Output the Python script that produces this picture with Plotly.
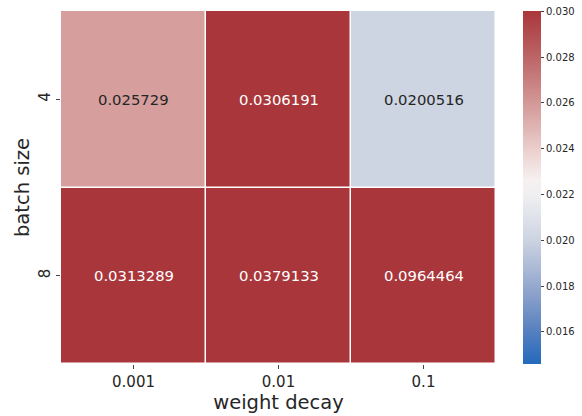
import plotly.graph_objects as go

weight_decay = ["0.001", "0.01", "0.1"]
batch_size = ["4", "8"]
values = [
    [0.025729, 0.0306191, 0.0200516],
    [0.0313289, 0.0379133, 0.0964464],
]
labels = [
    ["0.025729", "0.0306191", "0.0200516"],
    ["0.0313289", "0.0379133", "0.0964464"],
]
zmin, zmax = 0.0146, 0.03001
cbar_ticks = [0.016, 0.018, 0.020, 0.022, 0.024, 0.026, 0.028, 0.030]

vlag = [
    [0.0, "rgb(35,105,189)"],
    [0.1, "rgb(90,130,192)"],
    [0.2, "rgb(140,162,203)"],
    [0.35, "rgb(204,211,225)"],
    [0.47, "rgb(238,238,241)"],
    [0.52, "rgb(246,241,240)"],
    [0.6, "rgb(236,210,208)"],
    [0.72, "rgb(214,160,158)"],
    [0.86, "rgb(190,104,105)"],
    [1.0, "rgb(169,54,59)"],
]

font = "DejaVu Sans, Liberation Sans, sans-serif"

fig = go.Figure(go.Heatmap(
    z=values, x=weight_decay, y=batch_size,
    zmin=zmin, zmax=zmax, colorscale=vlag,
    xgap=1.5, ygap=1.5, hoverinfo="skip",
    colorbar=dict(
        thickness=18, len=1, lenmode="fraction", x=1.062, xanchor="left",
        y=0.5, yanchor="middle", ypad=0, xpad=0, outlinewidth=0,
        tickvals=cbar_ticks, tickformat=".3f", ticks="outside", ticklen=3.5,
        ticklabeloverflow="allow",
        tickcolor="#444", tickfont=dict(size=10, color="#262626", family=font),
    ),
))

for i, row in enumerate(values):
    for j, v in enumerate(row):
        frac = (min(max(v, zmin), zmax) - zmin) / (zmax - zmin)
        col = "#ffffff" if (frac > 0.8 or frac < 0.15) else "#262626"
        fig.add_annotation(x=j, y=i, text=labels[i][j],
                           showarrow=False, font=dict(size=14.8, color=col, family=font))

fig.update_layout(
    width=582, height=416,
    margin=dict(l=61, r=86, t=11, b=52, autoexpand=False),
    paper_bgcolor="white", plot_bgcolor="white",
    font=dict(family=font, color="#262626"),
    xaxis=dict(type="category", automargin=False,
               title=dict(text="weight decay", font=dict(size=19.5), standoff=2),
               tickfont=dict(size=15), ticks="outside", ticklen=4, tickcolor="#444",
               showgrid=False, zeroline=False, showline=False),
    yaxis=dict(type="category", automargin=False,
               title=dict(text="batch size", font=dict(size=19.5), standoff=1),
               tickfont=dict(size=15), tickangle=-90, ticks="outside", ticklen=4,
               tickcolor="#444", autorange="reversed",
               showgrid=False, zeroline=False, showline=False),
)

fig.write_html("out.html", config={"displayModeBar": False},
               post_script="document.body.style.margin='0';")
